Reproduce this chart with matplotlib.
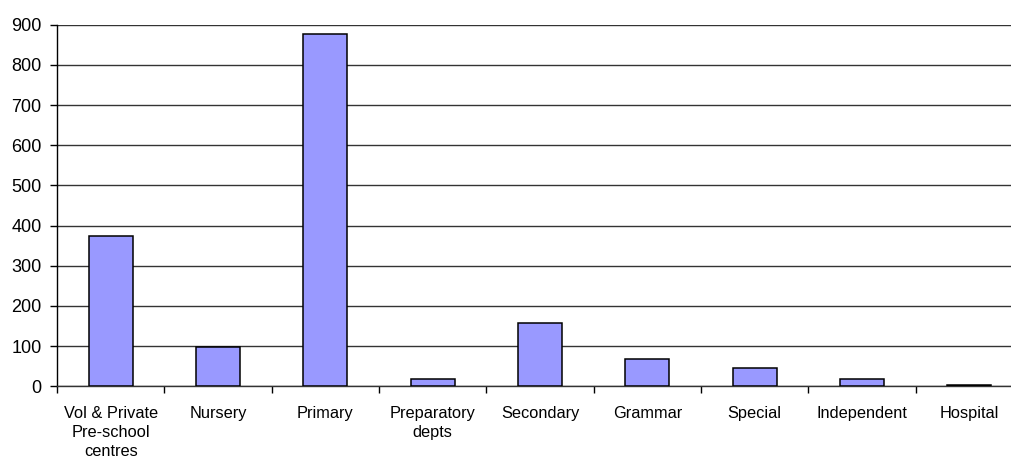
import matplotlib
matplotlib.use("Agg")
import matplotlib.pyplot as plt
import numpy as np

categories = ["Vol & Private\nPre-school\ncentres", "Nursery", "Primary", "Preparatory\ndepts",
              "Secondary", "Grammar", "Special", "Independent", "Hospital"]
values = [373, 99, 877, 17, 158, 68, 45, 18, 4]
yticks = [0, 100, 200, 300, 400, 500, 600, 700, 800, 900]

plt.rcParams['font.family'] = ['Liberation Sans', 'DejaVu Sans']

fig = plt.figure(figsize=(10.11, 4.62), dpi=100)
ax = fig.add_axes([57/1011, 1-386.3/462, (1023-57)/1011, (386.3-24.7)/462])

x = np.arange(len(categories))
ax.bar(x, values, width=0.41, color="#9999FF", edgecolor="black", linewidth=1.1, zorder=3)

ax.set_xlim(-0.5, len(categories)-0.5)
ax.set_ylim(0, 900)
ax.set_yticks(yticks)
ax.set_yticklabels([str(v) for v in yticks], fontsize=13)
ax.yaxis.grid(True, color="#333333", linewidth=1.0, zorder=0)

ax.set_xticks(x)
ax.set_xticklabels(categories, fontsize=11.8, linespacing=1.3)
ax.set_xticks(np.arange(len(categories)+1)-0.5, minor=True)
ax.tick_params(axis='x', which='major', length=0, pad=14.5)
ax.tick_params(axis='x', which='minor', length=5, width=1, color='black', direction='out')
ax.tick_params(axis='y', length=5, width=1, color='black', direction='out', pad=6)

for s in ['top', 'right']:
    ax.spines[s].set_visible(False)
ax.spines['left'].set_color('black')
ax.spines['left'].set_linewidth(1.0)
ax.spines['bottom'].set_color('#333333')
ax.spines['bottom'].set_linewidth(1.0)

fig.savefig("out.png", dpi=100)
